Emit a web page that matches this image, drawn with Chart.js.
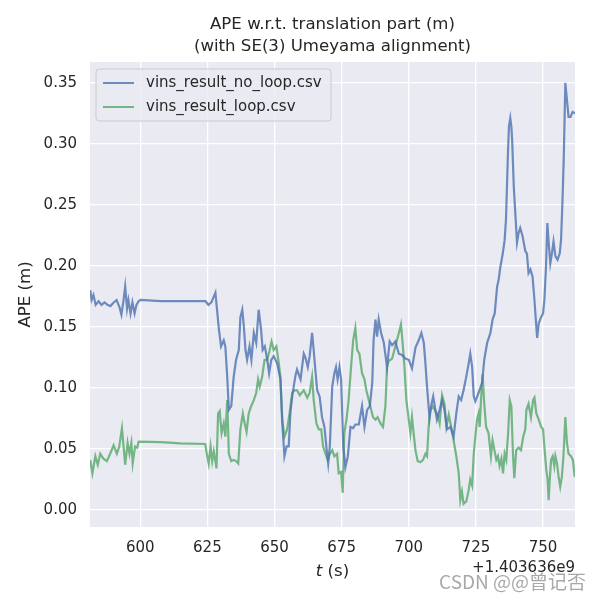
<!DOCTYPE html>
<html>
<head>
<meta charset="utf-8">
<script src="https://cdn.jsdelivr.net/npm/chart.js@4/dist/chart.umd.min.js"></script>
<style>
  html, body { margin: 0; padding: 0; background: #fff; }
  #wrap { width: 600px; height: 600px; position: relative; }
</style>
</head>
<body>
<div id="wrap"><canvas id="apeChart" width="600" height="600"></canvas></div>
<script>
const chartTitle = ['APE w.r.t. translation part (m)', '(with SE(3) Umeyama alignment)']
const seriesNames = ['vins_result_no_loop.csv', 'vins_result_loop.csv']
const xTicks = [600, 625, 650, 675, 700, 725, 750]
const yTicks = [0.00, 0.05, 0.10, 0.15, 0.20, 0.25, 0.30, 0.35]
const xOffsetText = '+1.403636e9'

// no loop closure
const timeNoLoop = [581.4, 581.9, 582.6, 583.4, 584.5, 585.6, 586.7, 587.8, 588.9, 590.1, 591.2, 592.3, 593.0, 593.8, 594.4, 595.1, 595.6, 596.4, 597.1, 597.9, 598.6, 599.4, 600.1,
  607.6, 615.0, 622.4, 624.3, 625.4, 626.5, 628.0, 629.3, 630.1, 631.1, 631.7, 632.4, 633.0, 633.9, 634.8, 635.7, 636.7, 637.3, 638.0, 638.6, 639.2, 639.8,
  640.7, 641.4, 642.3, 643.2, 644.1, 645.0, 645.6, 646.4, 647.3, 648.0, 648.8, 649.7, 651.0, 652.2, 652.9, 653.7, 654.5, 655.3, 655.9, 656.6, 657.8, 658.4,
  659.7, 660.9, 661.5, 662.4, 663.1, 664.0, 664.6, 665.2, 665.9, 666.8, 667.7, 668.6, 669.3, 670.0, 670.6, 671.5, 672.3, 672.9, 673.5, 674.2, 674.8,
  675.6, 676.4, 677.3, 678.3, 679.3, 680.1, 681.4, 682.6, 683.5, 684.5, 685.5, 686.4, 686.9, 687.6, 688.2, 688.8, 689.7, 690.7, 691.9, 692.9, 693.8,
  695.0, 696.3, 697.5, 698.7, 700.0, 701.2, 702.5, 703.7, 704.7, 705.6, 706.2, 706.8, 707.7, 708.3, 709.1, 709.9, 710.5, 711.5, 712.4, 713.3, 714.3,
  715.5, 716.7, 717.7, 718.6, 719.5, 720.4, 721.4, 722.3, 722.9, 723.6, 724.2, 724.8, 726.0, 727.3, 728.1, 729.2, 730.4, 731.2, 732.0, 732.9, 733.5,
  734.1, 735.0, 735.7, 736.2, 736.9, 737.3, 737.8, 738.2, 738.5, 739.1, 740.3, 740.9, 741.5, 742.4, 743.4, 744.0, 744.6, 745.3, 746.1, 746.8, 747.4,
  747.8, 748.4, 749.3, 750.0, 750.5, 751.1, 751.6, 752.1, 752.7, 753.3, 753.9, 754.6, 755.4, 756.2, 756.7, 757.2, 757.7, 758.3, 758.9, 759.5, 760.2,
  761.0, 761.9]
const apeNoLoop = [0.180, 0.172, 0.176, 0.168, 0.171, 0.168, 0.170, 0.168, 0.167, 0.170, 0.172, 0.166, 0.160, 0.172, 0.183, 0.165, 0.172, 0.161, 0.170, 0.161, 0.168, 0.171, 0.172,
  0.171, 0.171, 0.171, 0.171, 0.168, 0.170, 0.178, 0.148, 0.134, 0.139, 0.134, 0.109, 0.082, 0.085, 0.109, 0.123, 0.131, 0.158, 0.164, 0.150, 0.131, 0.123,
  0.134, 0.123, 0.145, 0.137, 0.164, 0.148, 0.131, 0.134, 0.123, 0.112, 0.123, 0.126, 0.120, 0.107, 0.071, 0.044, 0.052, 0.052, 0.079, 0.093, 0.110, 0.115,
  0.107, 0.128, 0.125, 0.117, 0.126, 0.145, 0.131, 0.115, 0.098, 0.093, 0.076, 0.068, 0.052, 0.038, 0.052, 0.101, 0.112, 0.117, 0.107, 0.117, 0.107,
  0.052, 0.035, 0.044, 0.068, 0.067, 0.070, 0.070, 0.085, 0.068, 0.082, 0.085, 0.104, 0.139, 0.156, 0.142, 0.156, 0.145, 0.137, 0.117, 0.138, 0.135,
  0.138, 0.128, 0.127, 0.124, 0.123, 0.116, 0.133, 0.139, 0.145, 0.137, 0.120, 0.101, 0.076, 0.085, 0.093, 0.082, 0.074, 0.082, 0.090, 0.082, 0.066,
  0.068, 0.060, 0.079, 0.093, 0.090, 0.098, 0.109, 0.120, 0.128, 0.117, 0.093, 0.089, 0.096, 0.104, 0.123, 0.137, 0.145, 0.156, 0.161, 0.183, 0.189,
  0.199, 0.210, 0.221, 0.238, 0.290, 0.314, 0.321, 0.314, 0.303, 0.265, 0.219, 0.227, 0.231, 0.224, 0.212, 0.210, 0.194, 0.197, 0.191, 0.172, 0.153,
  0.141, 0.153, 0.158, 0.161, 0.172, 0.199, 0.235, 0.219, 0.202, 0.210, 0.220, 0.208, 0.205, 0.210, 0.221, 0.251, 0.287, 0.350, 0.336, 0.322, 0.322,
  0.326, 0.325]

// with loop closure
const timeLoop = [581.4, 582.2, 583.3, 584.2, 585.1, 586.3, 587.6, 588.8, 590.1, 591.3, 592.2, 593.2, 593.8, 594.4, 595.3, 596.0, 596.7, 597.2, 598.1, 598.9, 599.4,
  607.6, 615.0, 624.2, 624.8, 625.5, 626.2, 626.8, 627.4, 628.4, 629.0, 629.6, 630.3, 631.1, 631.7, 632.4, 633.0, 633.9, 634.8, 635.7, 636.5, 637.3,
  638.2, 638.9, 639.6, 640.4, 641.3, 642.3, 643.2, 643.9, 644.5, 645.4, 646.3, 647.3, 648.1, 648.9, 649.7, 650.7, 651.6, 652.2, 652.9, 653.7, 654.7,
  655.6, 656.6, 657.4, 658.4, 659.4, 660.9, 662.2, 663.1, 664.0, 664.6, 665.6, 666.5, 667.4, 668.1, 669.0, 669.8, 670.6, 671.5, 672.3, 673.3, 673.9,
  674.8, 675.4, 676.0, 676.8, 677.6, 678.5, 679.3, 680.1, 680.8, 681.6, 682.6, 683.5, 684.2, 685.1, 686.0, 686.7, 687.6, 688.4, 689.4, 690.4, 691.3,
  691.9, 692.5, 693.8, 695.0, 696.3, 697.1, 697.7, 698.4, 699.1, 700.0, 700.6, 701.2, 701.8, 702.5, 703.3, 704.3, 705.3, 706.2, 706.8, 707.4, 708.1,
  708.9, 709.9, 710.8, 711.5, 712.4, 713.3, 714.0, 714.9, 715.8, 716.7, 717.7, 718.6, 719.2, 719.8, 720.4, 721.4, 722.3, 722.9, 723.6, 724.2, 724.8,
  725.4, 726.0, 726.4, 726.9, 727.5, 728.1, 728.8, 729.7, 730.6, 731.2, 731.9, 732.6, 733.2, 733.8, 734.5, 735.1, 735.7, 736.3, 737.0, 737.6, 738.2,
  738.8, 739.3, 740.0, 740.9, 741.8, 742.6, 743.4, 743.8, 744.6, 745.5, 746.3, 746.8, 747.5, 748.4, 749.3, 750.0, 750.6, 751.2, 751.7, 752.1, 752.5,
  753.0, 753.6, 754.2, 754.6, 755.2, 755.8, 756.4, 757.0, 757.6, 758.3, 758.9, 759.5, 760.4, 761.1, 761.8]
const apeLoop = [0.041, 0.030, 0.044, 0.037, 0.046, 0.042, 0.040, 0.046, 0.053, 0.046, 0.052, 0.067, 0.052, 0.037, 0.055, 0.046, 0.055, 0.038, 0.052, 0.051, 0.056,
  0.0555, 0.0545, 0.054, 0.046, 0.038, 0.052, 0.040, 0.048, 0.034, 0.079, 0.081, 0.063, 0.071, 0.060, 0.090, 0.046, 0.040, 0.041, 0.040, 0.038, 0.066,
  0.079, 0.071, 0.064, 0.079, 0.085, 0.090, 0.096, 0.107, 0.101, 0.109, 0.123, 0.123, 0.130, 0.138, 0.131, 0.134, 0.120, 0.109, 0.074, 0.060, 0.066,
  0.079, 0.096, 0.098, 0.098, 0.094, 0.098, 0.092, 0.096, 0.109, 0.090, 0.071, 0.066, 0.066, 0.052, 0.046, 0.041, 0.046, 0.049, 0.044, 0.046, 0.030,
  0.031, 0.014, 0.063, 0.074, 0.090, 0.117, 0.139, 0.149, 0.131, 0.128, 0.112, 0.107, 0.098, 0.090, 0.082, 0.076, 0.074, 0.076, 0.071, 0.068, 0.085,
  0.117, 0.122, 0.124, 0.134, 0.145, 0.152, 0.137, 0.117, 0.090, 0.074, 0.063, 0.076, 0.063, 0.049, 0.040, 0.039, 0.041, 0.046, 0.044, 0.068, 0.082,
  0.085, 0.081, 0.078, 0.071, 0.094, 0.087, 0.068, 0.078, 0.068, 0.057, 0.044, 0.030, 0.008, 0.015, 0.005, 0.007, 0.016, 0.025, 0.020, 0.046, 0.060,
  0.074, 0.079, 0.068, 0.090, 0.111, 0.087, 0.068, 0.063, 0.044, 0.057, 0.049, 0.041, 0.044, 0.036, 0.042, 0.030, 0.046, 0.041, 0.063, 0.090, 0.085,
  0.046, 0.026, 0.049, 0.051, 0.049, 0.060, 0.066, 0.082, 0.087, 0.076, 0.090, 0.092, 0.079, 0.074, 0.068, 0.066, 0.049, 0.033, 0.025, 0.008, 0.025,
  0.041, 0.044, 0.036, 0.044, 0.038, 0.027, 0.019, 0.027, 0.044, 0.076, 0.055, 0.046, 0.044, 0.041, 0.027]

const font = '"DejaVu Sans", sans-serif'
const textColor = '#262626'
const colors = ['rgba(76, 114, 176, 0.8)', 'rgba(85, 168, 104, 0.8)']

const zip = (xs, ys) => xs.map((x, i) => ({ x: x, y: ys[i] }))

// seaborn darkgrid look: grey panel, title, legend box and labels drawn by hand
const decorations = {
  id: 'decorations',
  beforeDraw(chart) {
    const { ctx, chartArea: a } = chart
    ctx.save()
    ctx.fillStyle = '#eaeaf2'
    ctx.fillRect(a.left, a.top, a.right - a.left, a.bottom - a.top)
    ctx.restore()
  },
  afterDraw(chart) {
    const { ctx, chartArea: a } = chart
    const cx = (a.left + a.right) / 2
    ctx.save()
    ctx.fillStyle = textColor
    ctx.textAlign = 'center'
    ctx.textBaseline = 'middle'
    ctx.font = '16.6px ' + font
    ctx.fillText(chartTitle[0], cx, 25)
    ctx.fillText(chartTitle[1], cx, 47)

    // y label
    ctx.save()
    ctx.translate(26, (a.top + a.bottom) / 2)
    ctx.rotate(-Math.PI / 2)
    ctx.fillText('APE (m)', 0, 0)
    ctx.restore()

    // x label with italic t
    ctx.font = 'italic 16.6px ' + font
    const tW = ctx.measureText('t').width
    ctx.font = '16.6px ' + font
    const rest = ' (s)'
    const rW = ctx.measureText(rest).width
    const x0 = cx - (tW + rW) / 2
    ctx.textAlign = 'left'
    ctx.font = 'italic 16.6px ' + font
    ctx.fillText('t', x0, 572)
    ctx.font = '16.6px ' + font
    ctx.fillText(rest, x0 + tW, 572)

    // offset text
    ctx.textAlign = 'right'
    ctx.font = '15px ' + font
    ctx.fillText(xOffsetText, a.right, 568)

    // legend
    const lx = a.left + 6, ly = a.top + 7, lw = 235, lh = 52
    ctx.beginPath()
    ctx.roundRect(lx, ly, lw, lh, 3)
    ctx.fillStyle = 'rgba(234, 234, 242, 0.8)'
    ctx.fill()
    ctx.strokeStyle = '#cccccc'
    ctx.lineWidth = 1
    ctx.stroke()
    ctx.font = '15px ' + font
    ctx.textAlign = 'left'
    seriesNames.forEach((name, i) => {
      const y = ly + 14 + i * 24
      ctx.strokeStyle = colors[i]
      ctx.lineWidth = 2
      ctx.beginPath()
      ctx.moveTo(lx + 7, y)
      ctx.lineTo(lx + 38, y)
      ctx.stroke()
      ctx.fillStyle = textColor
      ctx.fillText(name, lx + 50, y)
    })

    // watermark
    ctx.font = '19px "Noto Sans CJK SC", ' + font
    ctx.fillStyle = 'rgba(110, 110, 110, 0.6)'
    ctx.textAlign = 'right'
    ctx.fillText('CSDN @@曾记否', 586, 582)
    ctx.restore()
  }
}

const ctx = document.getElementById('apeChart').getContext('2d')
new Chart(ctx, {
  type: 'line',
  data: {
    datasets: [
      { label: seriesNames[0], data: zip(timeNoLoop, apeNoLoop), borderColor: colors[0], borderWidth: 2.2, pointRadius: 0, tension: 0, fill: false },
      { label: seriesNames[1], data: zip(timeLoop, apeLoop), borderColor: colors[1], borderWidth: 2.2, pointRadius: 0, tension: 0, fill: false }
    ]
  },
  options: {
    responsive: false,
    animation: false,
    layout: { padding: { top: 62, right: 25, left: 0, bottom: 0 } },
    plugins: { legend: { display: false }, tooltip: { enabled: false } },
    scales: {
      x: {
        type: 'linear',
        min: 581.3,
        max: 761.9,
        afterFit: scale => { scale.height = 73 },
        afterBuildTicks: scale => { scale.ticks = xTicks.map(v => ({ value: v })) },
        grid: { color: '#ffffff', lineWidth: 1.3, drawTicks: false },
        border: { display: false },
        ticks: { padding: 12, color: textColor, font: { family: font, size: 15 }, maxRotation: 0 }
      },
      y: {
        type: 'linear',
        min: -0.014,
        max: 0.367,
        afterFit: scale => { scale.width = 90 },
        afterBuildTicks: scale => { scale.ticks = yTicks.map(v => ({ value: v })) },
        grid: { color: '#ffffff', lineWidth: 1.3, drawTicks: false },
        border: { display: false },
        ticks: { padding: 13, color: textColor, font: { family: font, size: 15 }, callback: v => v.toFixed(2) }
      }
    }
  },
  plugins: [decorations]
})
</script>
</body>
</html>
